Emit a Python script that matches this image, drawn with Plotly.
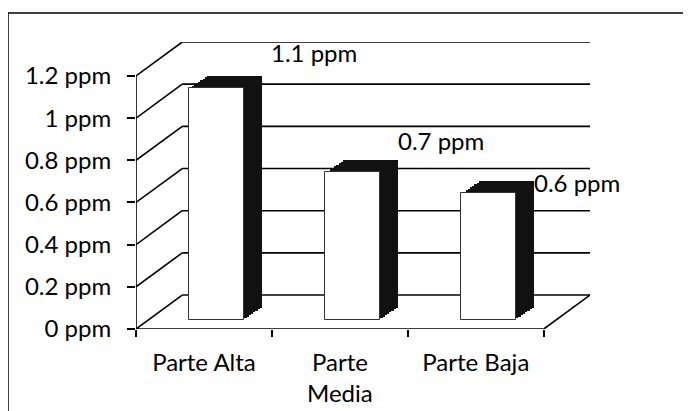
import plotly.graph_objects as go

# ---- data ----
categories = ["Parte Alta", "Parte<br>Media", "Parte Baja"]
values = [1.1, 0.7, 0.6]
y_ticks = [0, 0.2, 0.4, 0.6, 0.8, 1.0, 1.2]
y_tick_labels = ["0 ppm", "0.2 ppm", "0.4 ppm", "0.6 ppm", "0.8 ppm", "1 ppm", "1.2 ppm"]
value_labels = ["1.1 ppm", "0.7 ppm", "0.6 ppm"]

# ---- geometry / style ----
OFF = 8                        # browser body margin
W, H = 691 - OFF, 411 - OFF
def px_x(p):
    return (p - OFF) / W
def px_y(p):
    return 1 - (p - OFF) / H

FONT = dict(family="Lato, 'Open Sans', sans-serif", size=24, color="black")
DX, DY = 0.34, 0.161          # depth of the 3D box (axis units)
BAR_DX, BAR_DY = 0.095, 0.043  # bar front face position in depth
BAR_W = 0.405
EXT_DX, EXT_DY = 0.13, 0.058   # bar extrusion
label_shifts = [(110, 45), (101, 41), (101, 20)]

n = len(categories)
xmin, xmax = -0.5, n - 0.5
ymax = y_ticks[-1]

fig = go.Figure()

# extrusion (dark side/top) drawn as shifted copies behind the front face
steps = 8
for k in range(1, steps + 1):
    f = k / steps
    fig.add_trace(go.Bar(
        x=categories, y=values,
        base=[BAR_DY + f * EXT_DY] * n,
        width=[BAR_W] * n,
        offset=[-BAR_W / 2 + BAR_DX + f * EXT_DX] * n,
        marker=dict(color="#111111", line=dict(width=0)),
        hoverinfo="skip", showlegend=False,
    ))

# front face
fig.add_trace(go.Bar(
    x=categories, y=values,
    base=[BAR_DY] * n,
    width=[BAR_W] * n,
    offset=[-BAR_W / 2 + BAR_DX] * n,
    marker=dict(color="white", line=dict(color="#333333", width=1)),
    showlegend=False,
))

shapes = []
line = dict(color="black", width=1.6)
# back wall gridlines with slanted side-wall segments
for v in y_ticks:
    shapes.append(dict(type="line", xref="x", yref="y", layer="below",
                       x0=xmin, y0=v, x1=xmin + DX, y1=v + DY, line=line))
    shapes.append(dict(type="line", xref="x", yref="y", layer="below",
                       x0=xmin + DX, y0=v + DY, x1=xmax + DX, y1=v + DY, line=line))
# floor right edge
shapes.append(dict(type="line", xref="x", yref="y", layer="below",
                   x0=xmax, y0=0, x1=xmax + DX, y1=DY, line=line))
# front axes
shapes.append(dict(type="line", xref="x", yref="y",
                   x0=xmin, y0=0, x1=xmax, y1=0, line=line))
shapes.append(dict(type="line", xref="x", yref="y",
                   x0=xmin, y0=0, x1=xmin, y1=ymax, line=line))
# chart border (top and left visible)
shapes.append(dict(type="line", xref="paper", yref="paper",
                   x0=px_x(8), y0=px_y(13), x1=1.0, y1=px_y(13), line=dict(color="black", width=1.5)))
shapes.append(dict(type="line", xref="paper", yref="paper",
                   x0=px_x(8), y0=px_y(13), x1=px_x(8), y1=0, line=dict(color="black", width=1.5)))

annotations = []
for c, v, t, (sx, sy) in zip(categories, values, value_labels, label_shifts):
    annotations.append(dict(x=c, y=v, text=t, showarrow=False, xref="x", yref="y",
                            xshift=sx, yshift=sy, font=FONT))

fig.update_layout(
    width=W, height=H,
    margin=dict(l=0, r=0, t=0, b=0),
    paper_bgcolor="white", plot_bgcolor="rgba(0,0,0,0)",
    barmode="overlay", bargap=0,
    font=FONT,
    shapes=shapes, annotations=annotations,
    xaxis=dict(
        domain=[px_x(136), px_x(590)],
        range=[xmin, xmax + DX],
        type="category",
        tickson="boundaries",
        ticks="outside", ticklen=7, tickwidth=1.6, tickcolor="black",
        ticklabelstandoff=17,
        showgrid=False, zeroline=False, showline=False,
        tickfont=FONT, automargin=False,
    ),
    yaxis=dict(
        domain=[px_y(329), px_y(42)],
        range=[0, ymax + DY],
        tickmode="array", tickvals=y_ticks, ticktext=y_tick_labels,
        ticks="outside", ticklen=8, tickwidth=1.6, tickcolor="black",
        ticklabelstandoff=11,
        showgrid=False, zeroline=False, showline=False,
        tickfont=FONT, automargin=False,
    ),
)

fig.write_html("out.html")
